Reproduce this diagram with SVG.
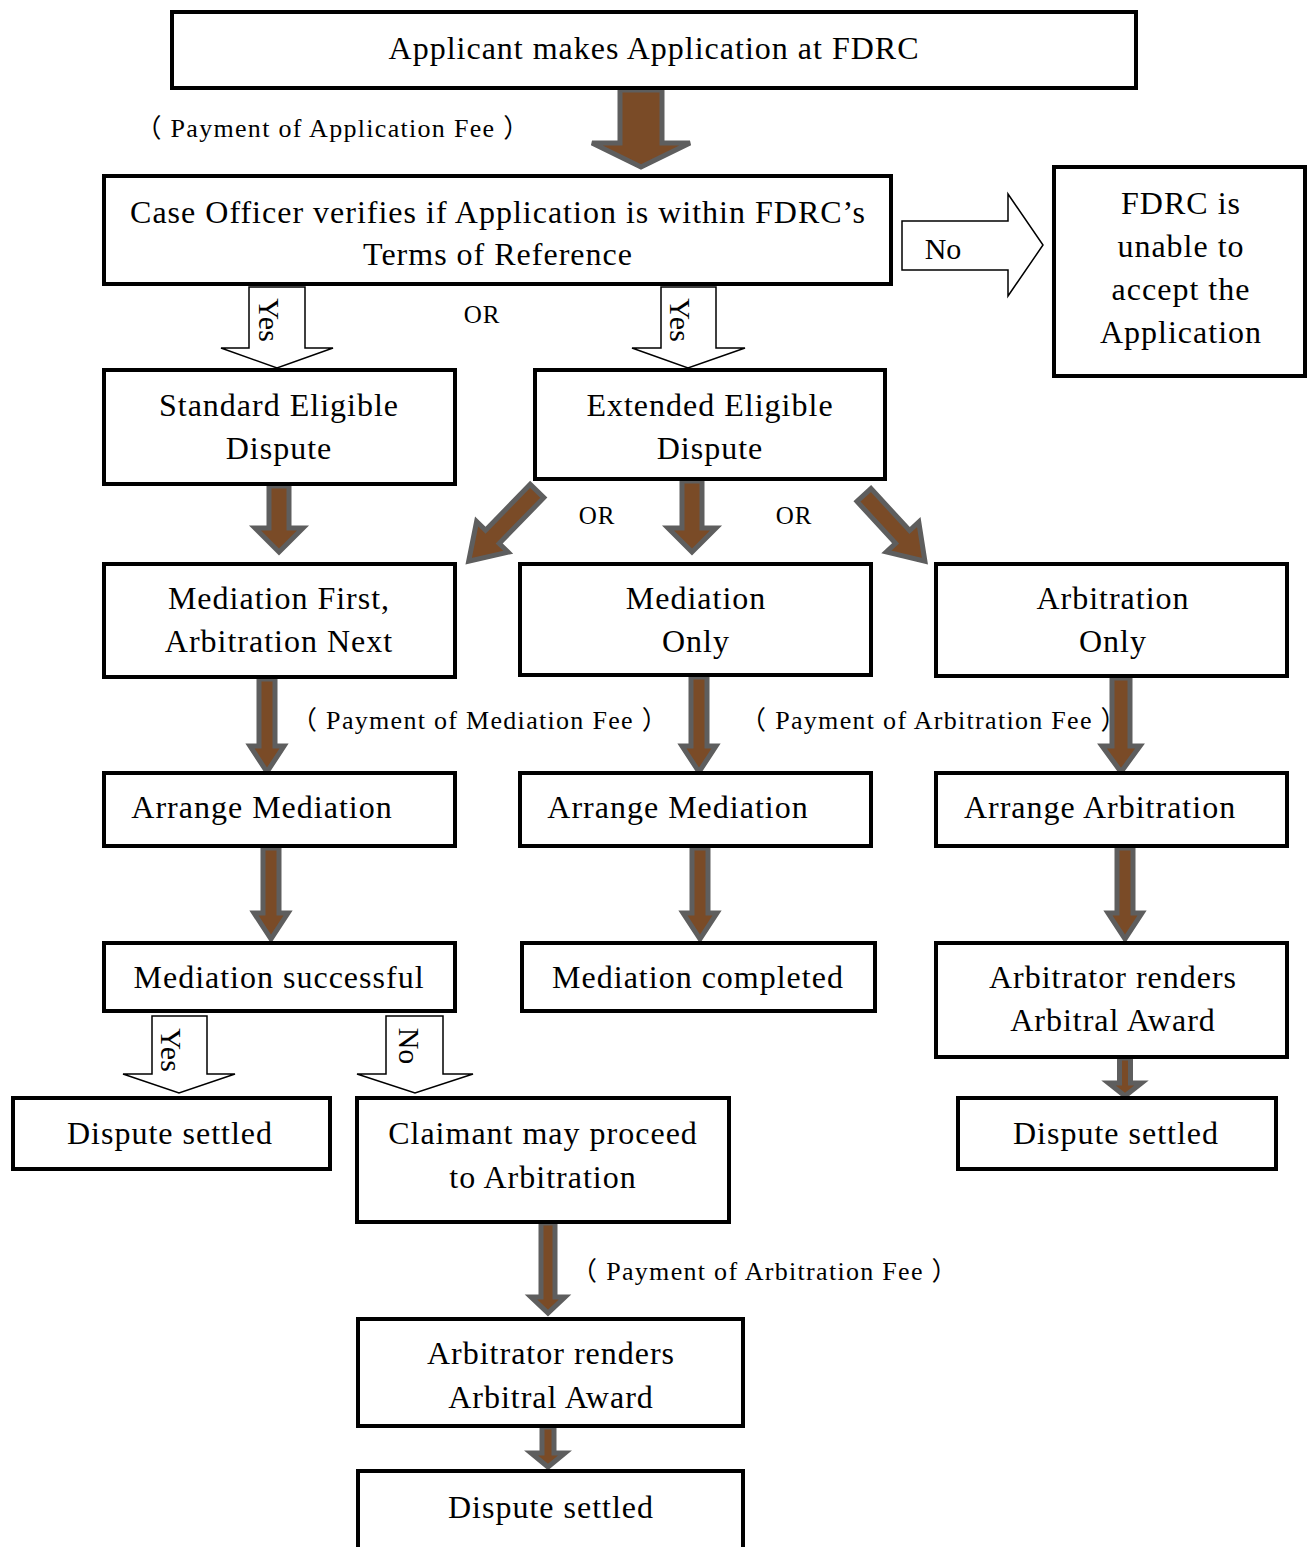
<svg xmlns="http://www.w3.org/2000/svg" width="1307" height="1547" viewBox="0 0 1307 1547">
<style>
.box{fill:#fff;stroke:#000;stroke-width:4}
.t{font-family:"Liberation Serif","Noto Sans CJK SC",serif;font-size:32px;letter-spacing:1px;fill:#000;text-anchor:middle;dominant-baseline:central}
.s{font-family:"Liberation Serif","Noto Sans CJK SC",serif;font-size:26px;letter-spacing:1.3px;fill:#000;text-anchor:middle;dominant-baseline:central}
.ba{fill:#7a4b27;stroke:#5e5e5e;stroke-width:5;stroke-linejoin:miter}
.wa{fill:#fff;stroke:#000;stroke-width:1.5}
</style>
<rect width="1307" height="1547" fill="#fff"/>
<g id="connectors">
<path class="ba" d="M620,90 H662 V143 H690 L641,167 L592,143 H620 Z"/>
<path class="ba" d="M269,486 H289 V528 H303 L279,552 L255,528 H269 Z"/>
<path class="ba" d="M682,481 H702 V528 H716 L692,552 L668,528 H682 Z"/>
<path class="ba" transform="translate(537,491) rotate(44.2)" d="M-9.5,0 H9.5 V64 H22 L0,98 L-22,64 H-9.5 Z"/>
<path class="ba" transform="translate(864,495) rotate(-42.6)" d="M-9.5,0 H9.5 V57 H22 L0,90 L-22,57 H-9.5 Z"/>
<path class="ba" d="M259,679 H275 V746 H284 L267,772 L250,746 H259 Z"/>
<path class="ba" d="M691,677 H707 V746 H716 L699,772 L682,746 H691 Z"/>
<path class="ba" d="M1112,678 H1130 V746 H1140 L1121,772 L1102,746 H1112 Z"/>
<path class="ba" d="M263,848 H279 V913 H288 L271,939 L254,913 H263 Z"/>
<path class="ba" d="M692,848 H708 V913 H717 L700,939 L683,913 H692 Z"/>
<path class="ba" d="M1117,848 H1133 V913 H1142 L1125,939 L1108,913 H1117 Z"/>
<path class="ba" d="M1119.5,1058 H1130.5 V1083 H1141.5 L1125,1096 L1108.5,1083 H1119.5 Z"/>
<path class="ba" d="M541,1223 H555 V1297 H565 L548,1313 L531,1297 H541 Z"/>
<path class="ba" d="M542,1427 H554 V1453 H565 L548,1467 L531,1453 H542 Z"/>
<path class="wa" d="M249,287 H305 V348 H333 L277,368 L221,348 H249 Z"/>
<path class="wa" d="M661,287 H716 V348 H745 L688,368 L632,348 H661 Z"/>
<path class="wa" d="M902,221 H1008 V194 L1043,245 L1008,296 V270 H902 Z"/>
<path class="wa" d="M152,1016 H207 V1074 H235 L179,1093 L123,1074 H152 Z"/>
<path class="wa" d="M386,1016 H443 V1074 H473 L415,1093 L357,1074 H386 Z"/>
<text class="t" transform="translate(269,320) rotate(90)" style="font-size:30px;letter-spacing:0">Yes</text>
<text class="t" transform="translate(680,320) rotate(90)" style="font-size:30px;letter-spacing:0">Yes</text>
<text class="t" x="943" y="248" style="font-size:30px;letter-spacing:0">No</text>
<text class="t" transform="translate(171,1050) rotate(90)" style="font-size:30px;letter-spacing:0">Yes</text>
<text class="t" transform="translate(409,1046) rotate(90)" style="font-size:30px;letter-spacing:0">No</text>
<text class="s" x="333" y="128">（ Payment of Application Fee ）</text>
<text class="s" x="482" y="314" style="font-size:25px;letter-spacing:1px">OR</text>
<text class="s" x="597" y="515" style="font-size:25px;letter-spacing:1px">OR</text>
<text class="s" x="794" y="515" style="font-size:25px;letter-spacing:1px">OR</text>
<text class="s" x="480" y="720">（ Payment of Mediation Fee ）</text>
<text class="s" x="934" y="720">（ Payment of Arbitration Fee ）</text>
<text class="s" x="765" y="1271">（ Payment of Arbitration Fee ）</text>
</g>
<g id="n1"><rect class="box" x="172" y="12" width="964" height="76"/><text class="t" x="654" y="48">Applicant makes Application at FDRC</text></g>
<g id="n2"><rect class="box" x="104" y="176" width="787" height="108"/><text class="t" x="498" y="212">Case Officer verifies if Application is within FDRC’s</text><text class="t" x="498" y="254">Terms of Reference</text></g>
<g id="n3"><rect class="box" x="1054" y="167" width="251" height="209"/><text class="t" x="1181" y="203">FDRC is</text><text class="t" x="1181" y="246">unable to</text><text class="t" x="1181" y="289">accept the</text><text class="t" x="1181" y="332">Application</text></g>
<g id="n4"><rect class="box" x="104" y="370" width="351" height="114"/><text class="t" x="279" y="405">Standard Eligible</text><text class="t" x="279" y="448">Dispute</text></g>
<g id="n5"><rect class="box" x="535" y="370" width="350" height="109"/><text class="t" x="710" y="405">Extended Eligible</text><text class="t" x="710" y="448">Dispute</text></g>
<g id="n6"><rect class="box" x="104" y="564" width="351" height="113"/><text class="t" x="279" y="598">Mediation First,</text><text class="t" x="279" y="641">Arbitration Next</text></g>
<g id="n7"><rect class="box" x="520" y="564" width="351" height="111"/><text class="t" x="696" y="598">Mediation</text><text class="t" x="696" y="641">Only</text></g>
<g id="n8"><rect class="box" x="936" y="564" width="351" height="112"/><text class="t" x="1113" y="598">Arbitration</text><text class="t" x="1113" y="641">Only</text></g>
<g id="n9"><rect class="box" x="104" y="773" width="351" height="73"/><text class="t" x="262" y="807">Arrange Mediation</text></g>
<g id="n10"><rect class="box" x="520" y="773" width="351" height="73"/><text class="t" x="678" y="807">Arrange Mediation</text></g>
<g id="n11"><rect class="box" x="936" y="773" width="351" height="73"/><text class="t" x="1100" y="807">Arrange Arbitration</text></g>
<g id="n12"><rect class="box" x="104" y="943" width="351" height="68"/><text class="t" x="279" y="977">Mediation successful</text></g>
<g id="n13"><rect class="box" x="522" y="943" width="353" height="68"/><text class="t" x="698" y="977">Mediation completed</text></g>
<g id="n14"><rect class="box" x="936" y="943" width="351" height="114"/><text class="t" x="1113" y="977">Arbitrator renders</text><text class="t" x="1113" y="1020">Arbitral Award</text></g>
<g id="n15"><rect class="box" x="13" y="1098" width="317" height="71"/><text class="t" x="170" y="1133">Dispute settled</text></g>
<g id="n16"><rect class="box" x="357" y="1098" width="372" height="124"/><text class="t" x="543" y="1133">Claimant may proceed</text><text class="t" x="543" y="1177">to Arbitration</text></g>
<g id="n17"><rect class="box" x="958" y="1098" width="318" height="71"/><text class="t" x="1116" y="1133">Dispute settled</text></g>
<g id="n18"><rect class="box" x="358" y="1319" width="385" height="107"/><text class="t" x="551" y="1353">Arbitrator renders</text><text class="t" x="551" y="1397">Arbitral Award</text></g>
<g id="n19"><rect class="box" x="358" y="1471" width="385" height="80"/><text class="t" x="551" y="1507">Dispute settled</text></g>
</svg>
